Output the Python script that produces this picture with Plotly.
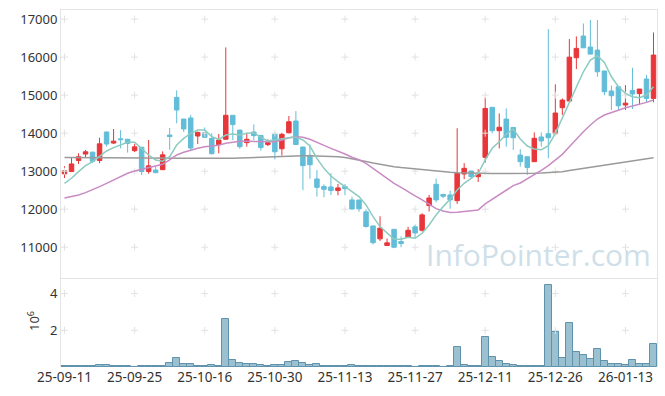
import plotly.graph_objects as go

dates = [
    "25-09-11", "25-09-12", "25-09-15", "25-09-16", "25-09-17", "25-09-18", "25-09-19",
    "25-09-22", "25-09-23", "25-09-24", "25-09-25", "25-09-26", "25-09-29", "25-09-30",
    "25-10-01", "25-10-02", "25-10-10", "25-10-13", "25-10-14", "25-10-15", "25-10-16",
    "25-10-17", "25-10-20", "25-10-21", "25-10-22", "25-10-23", "25-10-24", "25-10-27",
    "25-10-28", "25-10-29", "25-10-30", "25-10-31",
    "25-11-03", "25-11-04", "25-11-05", "25-11-06", "25-11-07", "25-11-10", "25-11-11",
    "25-11-12", "25-11-13", "25-11-14", "25-11-17", "25-11-18", "25-11-19", "25-11-20",
    "25-11-21", "25-11-24", "25-11-25", "25-11-26", "25-11-27", "25-11-28",
    "25-12-01", "25-12-02", "25-12-03", "25-12-04", "25-12-05", "25-12-08", "25-12-09",
    "25-12-10", "25-12-11", "25-12-12", "25-12-15", "25-12-16", "25-12-17", "25-12-18",
    "25-12-19", "25-12-22", "25-12-23", "25-12-24", "25-12-26", "25-12-29", "25-12-30",
    "26-01-02", "26-01-05", "26-01-06", "26-01-07", "26-01-08", "26-01-09", "26-01-12",
    "26-01-13", "26-01-14", "26-01-15", "26-01-16", "26-01-19",
]

open_ = [
    12930, 12990, 13280, 13450, 13500, 13280, 14030, 13740, 13850, 13840,
    13540, 13630, 12990, 13030, 13040, 13950, 14940, 14370, 14400, 13925,
    14020, 13860, 13700, 13840, 14470, 14080, 13750, 14030, 13940, 13700,
    13970, 13590, 14010, 14320, 13635, 13415, 12795, 12595, 12585, 12490,
    12595, 12245, 12240, 11930, 11560, 11220, 11045, 11470, 11150, 11255,
    11535, 11445, 12095, 12655, 12390, 12375, 12225, 12925, 13005, 12855,
    13365, 14680, 14065, 14370, 14150, 13425, 13380, 13250, 13900, 13985,
    13985, 14670, 14845, 15985, 16555, 16265, 16185, 15635, 15110, 15220,
    14740, 15125, 15040, 15425, 14915,
]
high = [
    13130, 13360, 13470, 13560, 13510, 13880, 14040, 14110, 14080, 13850,
    13720, 13640, 13820, 13120, 13520, 14135, 15125, 14380, 14480, 14040,
    14150, 14000, 13980, 16255, 14470, 14090, 14010, 14230, 13950, 13840,
    14020, 14010, 14450, 14580, 13640, 13700, 13030, 12655, 12945, 12665,
    12665, 12330, 12250, 11998, 11560, 11815, 11230, 11475, 11280, 11535,
    11595, 11895, 12375, 12805, 12395, 12490, 14130, 13210, 13010, 13050,
    14940, 14680, 14520, 14650, 14160, 13575, 13390, 14020, 14020, 16735,
    15285, 14915, 16475, 16545, 16885, 16975, 16975, 15640, 15250, 15225,
    15265, 15720, 15165, 15530, 16650,
]
low = [
    12820, 12990, 13190, 13370, 13210, 13210, 13645, 13715, 13600, 13490,
    13500, 12900, 12930, 12960, 13030, 13560, 14260, 14030, 13540, 13715,
    13880, 13440, 13470, 13830, 13820, 13590, 13645, 13820, 13540, 13660,
    13310, 13410, 13995, 13690, 12500, 12800, 12330, 12315, 12375, 12365,
    12370, 11990, 11935, 11516, 11070, 11165, 11040, 10975, 11000, 11245,
    11235, 11410, 11940, 12180, 12290, 12010, 12140, 12790, 12815, 12715,
    13225, 13995, 13600, 13645, 13560, 13120, 12900, 13240, 13645, 13340,
    13980, 14480, 14840, 15685, 16240, 16075, 15485, 15000, 14610, 14610,
    14610, 14635, 14740, 14810, 14810,
]
close = [
    13010, 13190, 13380, 13510, 13260, 13720, 13715, 13790, 13830, 13730,
    13640, 12990, 13140, 12960, 13430, 13910, 14610, 14110, 13610, 14020,
    13890, 13460, 13820, 14470, 14225, 13645, 13840, 13935, 13620, 13750,
    13510, 13970, 14300, 13700, 13145, 13170, 12575, 12525, 12490, 12560,
    12540, 12005, 12010, 11545, 11120, 11500, 11115, 11000, 11095, 11445,
    11375, 11850, 12295, 12245, 12340, 12245, 12945, 13075, 12855, 12920,
    14650, 14065, 14155, 13890, 13880, 13250, 13095, 13865, 13795, 13880,
    14530, 14870, 16000, 16230, 16245, 16080, 15615, 15090, 14985, 14720,
    14790, 15030, 15160, 14915, 16055,
]

ma5 = [
    12681, 12813, 12988, 13146, 13251, 13400, 13531, 13619, 13688, 13760,
    13760, 13601, 13426, 13295, 13260, 13382, 13688, 13864, 13995, 14083,
    14083, 13908, 13838, 13951, 13978, 13951, 13995, 14013, 13890, 13794,
    13820, 13864, 13881, 13895, 13820, 13662, 13338, 13075, 12874, 12725,
    12594, 12462, 12331, 12112, 11805, 11543, 11367, 11210, 11210, 11262,
    11236, 11367, 11586, 11849, 12068, 12261, 12506, 12681, 12813, 12944,
    13295, 13601, 13776, 13970, 14110, 13846, 13662, 13583, 13566, 13671,
    13995, 14389, 14784, 15222, 15616, 15922, 16036, 15861, 15484, 15222,
    15046, 14959, 14933, 15003, 15222,
]
ma20 = [
    12295, 12331, 12375, 12436, 12506, 12594, 12681, 12769, 12857, 12944,
    13006, 13049, 13075, 13119, 13180, 13295, 13426, 13496, 13557, 13601,
    13645, 13655, 13680, 13732, 13767, 13785, 13785, 13785, 13776, 13767,
    13776, 13820, 13881, 13908, 13890, 13838, 13750, 13680, 13601, 13531,
    13452, 13365, 13300, 13207, 13076, 12944, 12804, 12681, 12576, 12454,
    12348, 12243, 12121, 12016, 11954, 11911, 11919, 11937, 11963, 11981,
    12138, 12261, 12375, 12510, 12620, 12690, 12795, 12918, 13023, 13146,
    13286, 13443, 13645, 13846, 14039, 14214, 14372, 14477, 14547, 14608,
    14670, 14713, 14757, 14810, 14871,
]
ma_long = [
    13360, 13360, 13358, 13357, 13356, 13355, 13354, 13353, 13352, 13351,
    13350, 13349, 13348, 13347, 13346, 13345, 13343, 13341, 13339, 13337,
    13335, 13333, 13331, 13335, 13340, 13348, 13356, 13364, 13372, 13380,
    13388, 13394, 13400, 13404, 13405, 13404, 13401, 13397, 13392, 13380,
    13360, 13330, 13295, 13255, 13215, 13178, 13145, 13118, 13095, 13075,
    13055, 13035, 13015, 12998, 12983, 12970, 12960, 12952, 12946, 12942,
    12940, 12938, 12936, 12935, 12935, 12937, 12940, 12945, 12952, 12960,
    12972, 12988, 13015, 13043, 13070, 13098, 13125, 13152, 13180, 13207,
    13235, 13262, 13290, 13320, 13355,
]

volume = [
    40000, 40000, 40000, 40000, 40000, 100000, 100000, 40000, 40000, 40000,
    0, 40000, 40000, 40000, 40000, 200000, 500000, 150000, 150000, 40000,
    40000, 100000, 40000, 2610000, 380000, 210000, 150000, 150000, 100000, 40000,
    100000, 100000, 270000, 320000, 210000, 100000, 150000, 40000, 40000, 40000,
    40000, 100000, 40000, 40000, 70000, 40000, 40000, 40000, 40000, 40000,
    0, 40000, 40000, 40000, 0, 40000, 1080000, 130000, 40000, 40000,
    1640000, 520000, 320000, 190000, 130000, 70000, 70000, 70000, 40000, 4450000,
    1930000, 470000, 2390000, 800000, 640000, 410000, 970000, 300000, 190000, 190000,
    130000, 360000, 190000, 190000, 1250000,
]

price_ticks = [11000, 12000, 13000, 14000, 15000, 16000, 17000]
volume_ticks = [2000000, 4000000]
volume_tick_labels = ["2", "4"]
x_ticks = dates[::10]

UP = "#e8363a"
DOWN = "#62bdd8"
FRAME = "#e4e4e4"
CROSS = "#e2e2e2"

fig = go.Figure()

# grid crosses (at tick intersections)
gx, gy = [], []
for xv in x_ticks:
    for yv in price_ticks:
        gx.append(xv)
        gy.append(yv)
fig.add_trace(go.Scatter(x=gx, y=gy, mode="markers", xaxis="x", yaxis="y",
                         marker=dict(symbol="cross-thin", size=5,
                                     line=dict(color=CROSS, width=1)),
                         hoverinfo="skip", showlegend=False))
vx, vy = [], []
for xv in x_ticks:
    for yv in volume_ticks:
        vx.append(xv)
        vy.append(yv)
fig.add_trace(go.Scatter(x=vx, y=vy, mode="markers", xaxis="x2", yaxis="y2",
                         marker=dict(symbol="cross-thin", size=5,
                                     line=dict(color=CROSS, width=1)),
                         hoverinfo="skip", showlegend=False))

fig.add_trace(go.Scatter(x=dates, y=ma_long, mode="lines", xaxis="x", yaxis="y",
                         line=dict(color="#9a9a9a", width=1.5), showlegend=False))
fig.add_trace(go.Scatter(x=dates, y=ma20, mode="lines", xaxis="x", yaxis="y",
                         line=dict(color="#c98bc3", width=1.5), showlegend=False))
fig.add_trace(go.Scatter(x=dates, y=ma5, mode="lines", xaxis="x", yaxis="y",
                         line=dict(color="#8ccbbf", width=1.5), showlegend=False))

fig.add_trace(go.Candlestick(
    x=dates, open=open_, high=high, low=low, close=close,
    xaxis="x", yaxis="y",
    increasing=dict(line=dict(color=UP, width=1), fillcolor=UP),
    decreasing=dict(line=dict(color=DOWN, width=1), fillcolor=DOWN),
    whiskerwidth=0, showlegend=False))

fig.add_trace(go.Bar(x=dates, y=volume, xaxis="x2", yaxis="y2",
                     marker=dict(color="rgba(155,192,208,1)",
                                 line=dict(color="#5f93ad", width=1)),
                     showlegend=False))

vol_dom = 89 / 357
fig.update_layout(
    width=665, height=396,
    margin=dict(l=61, r=8, t=10, b=29),
    paper_bgcolor="white", plot_bgcolor="white",
    font=dict(family="Noto Sans", size=13, color="#333333"),
    bargap=0, boxgap=0.2, boxgroupgap=0.2,
    xaxis=dict(type="category", categoryorder="array", categoryarray=dates,
               range=[-0.5, len(dates) - 0.5], domain=[0, 1], anchor="y",
               showticklabels=False, showgrid=False, zeroline=False,
               showline=True, linecolor=FRAME, mirror=True,
               rangeslider=dict(visible=False), matches="x2"),
    yaxis=dict(domain=[vol_dom, 1], range=[10190, 17240], tickvals=price_ticks,
               tickformat="d",
               showgrid=False, zeroline=False, showline=True, linecolor=FRAME,
               mirror=True, ticks="", anchor="x"),
    xaxis2=dict(type="category", categoryorder="array", categoryarray=dates,
                range=[-0.5, len(dates) - 0.5], domain=[0, 1], anchor="y2",
                tickvals=x_ticks, ticktext=x_ticks, showgrid=False, zeroline=False,
                showline=False, ticks="", tickfont=dict(size=13.5)),
    yaxis2=dict(domain=[0, vol_dom], range=[0, 4850000], tickvals=volume_ticks,
                ticktext=volume_tick_labels, showgrid=False, zeroline=False,
                showline=True, linecolor=FRAME, mirror=True, ticks="", anchor="x2"),
    annotations=[
        dict(text="InfoPointer.com", xref="paper", yref="paper",
             x=(538.5 - 61) / 596, y=(367 - 254) / 357, xanchor="center", yanchor="middle",
             showarrow=False, font=dict(family="Open Sans", size=30, color="#cfdfe9")),
        dict(text="10<sup>6</sup>", xref="paper", yref="paper",
             x=(33 - 61) / 596, y=(367 - 321) / 357, xanchor="center", yanchor="middle",
             textangle=-90, showarrow=False, font=dict(size=13, color="#333333")),
    ],
)

fig.write_html("out.html", config={"displayModeBar": False},
               post_script="document.body.style.margin='0';document.body.style.overflow='hidden';")
